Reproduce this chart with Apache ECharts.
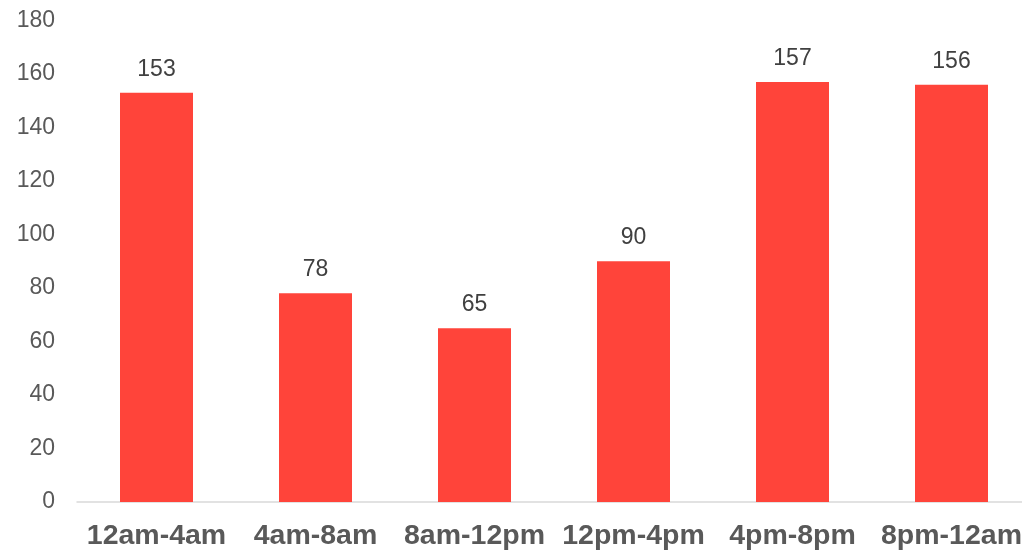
<!DOCTYPE html>
<html>
<head>
<meta charset="utf-8">
<script src="https://cdn.jsdelivr.net/npm/echarts@6/dist/echarts.min.js"></script>
<style>
html,body{margin:0;padding:0;background:#fff;overflow:hidden;width:1022px;height:552px;}
#c{width:1031px;height:552px;}
</style>
</head>
<body>
<div id="c"></div>
<script>
const categories = ['12am-4am', '4am-8am', '8am-12pm', '12pm-4pm', '4pm-8pm', '8pm-12am'];
const values = [153, 78, 65, 90, 157, 156];

const chart = echarts.init(document.getElementById('c'), null, {renderer: 'canvas'});
chart.setOption({
  animation: false,
  backgroundColor: '#ffffff',
  grid: {left: 77, top: 20.5, right: 0, height: 481.5, containLabel: false},
  xAxis: {
    type: 'category',
    data: categories,
    axisLine: {show: true, lineStyle: {color: '#D9D9D9', width: 1.5}},
    axisTick: {show: false},
    axisLabel: {
      color: '#595959', fontFamily: 'Liberation Sans, Arial, sans-serif',
      fontSize: 28.5, fontWeight: 'bold', margin: 20, interval: 0
    }
  },
  yAxis: {
    type: 'value',
    min: 0, max: 180, interval: 20,
    axisLine: {show: false},
    axisTick: {show: false},
    splitLine: {show: false},
    axisLabel: {
      color: '#595959', fontFamily: 'Liberation Sans, Arial, sans-serif',
      fontSize: 23, margin: 22
    }
  },
  series: [{
    type: 'bar',
    data: values,
    barWidth: 73,
    itemStyle: {color: '#FF443A'},
    label: {
      show: true, position: 'top', distance: 12,
      color: '#404040', fontFamily: 'Liberation Sans, Arial, sans-serif',
      fontSize: 23
    }
  }]
});
</script>
</body>
</html>
